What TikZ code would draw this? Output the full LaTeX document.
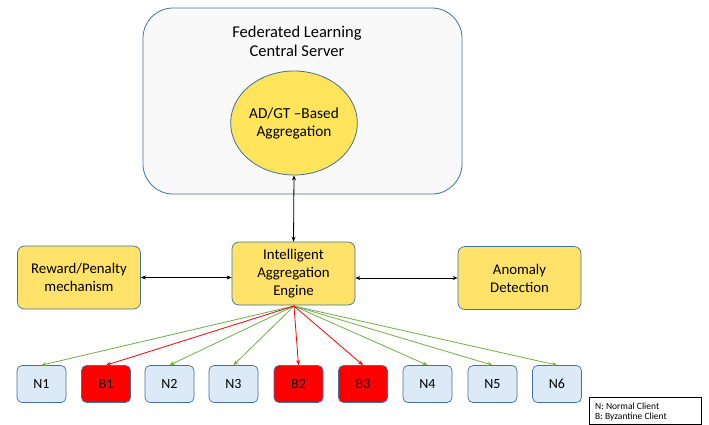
\documentclass[tikz,border=0pt]{standalone}
\usepackage{fontspec}
\setmainfont{Carlito}
\usetikzlibrary{arrows.meta,shapes.geometric}
\definecolor{bordblue}{HTML}{41719C}
\definecolor{yel}{HTML}{FFE26A}
\definecolor{yel2}{HTML}{FFE45C}
\definecolor{ltblue}{HTML}{DCEAF7}
\definecolor{grn}{HTML}{70AD47}
\definecolor{srvfill}{HTML}{F9F9F9}
\tikzset{
  srvbox/.style={draw=bordblue, fill=srvfill, rounded corners=30pt, line width=0.8pt},
  ybox/.style={draw=bordblue, fill=yel, rounded corners=7pt, line width=0.7pt, minimum width=123pt, minimum height=63pt, align=center, font=\fontsize{14.8}{18}\selectfont, inner sep=0pt},
  cnode/.style={draw=bordblue, fill=ltblue, rounded corners=5pt, line width=0.7pt, minimum width=49pt, minimum height=37pt, font=\fontsize{14}{16}\selectfont, inner sep=0pt},
  bnode/.style={cnode, fill=red},
  tip/.style={-{Stealth[length=5pt,width=4pt]}},
  dtip/.style={{Stealth[length=5pt,width=4pt]}-{Stealth[length=5pt,width=4pt]}},
  garr/.style={tip, draw=grn, line width=0.8pt},
  rarr/.style={tip, draw=red, line width=0.8pt},
}
\begin{document}
\begin{tikzpicture}[x=1pt,y=-1pt]
\useasboundingbox (0,0) rectangle (709,424);
\node[srvbox, minimum width=319pt, minimum height=186pt, inner sep=0pt] (srv) at (302.5,101) {};
\node[align=center, font=\fontsize{16.5}{19}\selectfont] (srvt) at (297,41) {Federated Learning\\Central Server};
\node[ellipse, draw=bordblue, fill=yel2, line width=0.8pt, minimum width=118pt, minimum height=104pt, inner sep=0pt, align=center, font=\fontsize{15.3}{18}\selectfont] (agg) at (294,123) {AD/GT --Based\\Aggregation};
\node[ybox] (rew) at (79,277.5) {Reward/Penalty\\mechanism};
\node[ybox] (eng) at (293.5,273.5) {Intelligent\\Aggregation\\Engine};
\node[ybox] (ano) at (519.5,278) {Anomaly\\Detection};
\draw[dtip, line width=0.8pt] (agg.south) -- (eng.north);
\draw[dtip, line width=0.8pt] (rew.east) -- (eng.west |- rew.east);
\draw[dtip, line width=0.8pt] (eng.east |- ano.west) -- (ano.west);
\node[cnode] (n1) at (41.5,384) {N1};
\node[bnode] (b1) at (106,384) {B1};
\node[cnode] (n2) at (169.5,384) {N2};
\node[cnode] (n3) at (233.5,384) {N3};
\node[bnode] (b2) at (298.5,384) {B2};
\node[bnode] (b3) at (363,384) {B3};
\node[cnode] (n4) at (427.5,384) {N4};
\node[cnode] (n5) at (492.5,384) {N5};
\node[cnode] (n6) at (557,384) {N6};
\coordinate (src) at (294,306);
\foreach \n in {n1,n2,n3,n4,n5,n6} \draw[garr] (src) -- (\n.north);
\foreach \n in {b1,b2,b3} \draw[rarr] (src) -- (\n.north);
\node[draw=black, line width=0.7pt, minimum width=112pt, minimum height=27pt, inner sep=0pt, anchor=north west] (leg) at (589,396.5) {};
\node[anchor=west, align=left, font=\fontsize{9.5}{10.5}\selectfont, inner sep=0pt] (legt) at (595,412) {N: Normal Client\\B: Byzantine Client};
\end{tikzpicture}
\end{document}
